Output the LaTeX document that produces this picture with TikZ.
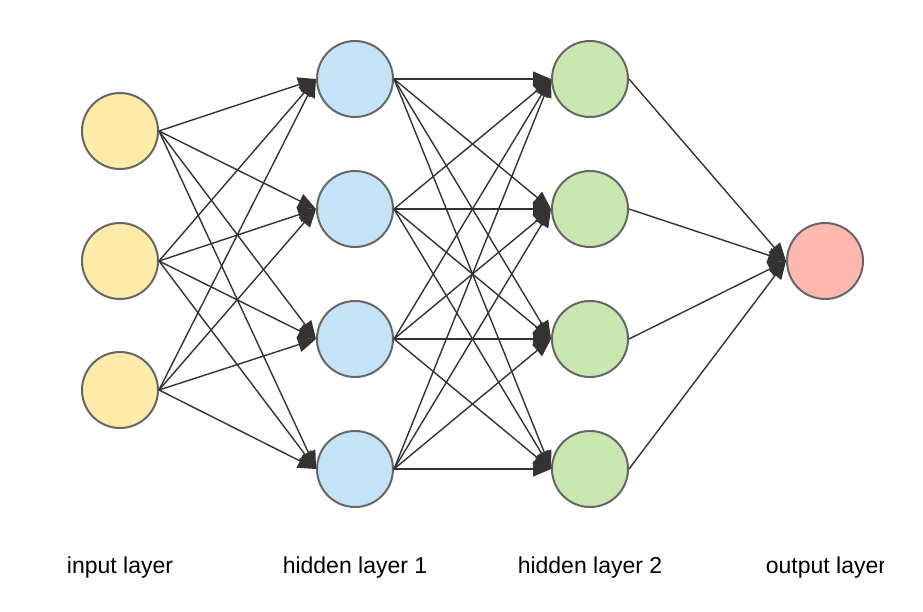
\documentclass[tikz,border=0pt]{standalone}
\usepackage{fontspec}
\setmainfont{Liberation Sans}
\usetikzlibrary{arrows.meta}
\definecolor{inyellow}{HTML}{FFEBA8}
\definecolor{hidblue}{HTML}{C4E3F6}
\definecolor{hidgreen}{HTML}{C8E8B0}
\definecolor{outred}{HTML}{FFB8B0}
\definecolor{ringgray}{HTML}{666666}
\definecolor{linkdark}{HTML}{333333}
\tikzset{
  neuron/.style={circle, draw=ringgray, line width=2pt, minimum size=76pt, inner sep=0pt},
  link/.style={draw=linkdark, line width=1.4pt, -{Triangle[length=18pt,width=15pt]}},
  layerlabel/.style={anchor=base, font=\fontsize{23}{26}\selectfont, text=black}
}
\begin{document}
\begin{tikzpicture}[x=1pt,y=-1pt]
\useasboundingbox (0,0) rectangle (923,612);
% input layer
\node[neuron, fill=inyellow] (i1) at (120,131) {};
\node[neuron, fill=inyellow] (i2) at (120,261) {};
\node[neuron, fill=inyellow] (i3) at (120,390) {};
% hidden layer 1
\node[neuron, fill=hidblue] (a1) at (355,79) {};
\node[neuron, fill=hidblue] (a2) at (355,209) {};
\node[neuron, fill=hidblue] (a3) at (355,339) {};
\node[neuron, fill=hidblue] (a4) at (355,469) {};
% hidden layer 2
\node[neuron, fill=hidgreen] (b1) at (590,79) {};
\node[neuron, fill=hidgreen] (b2) at (590,209) {};
\node[neuron, fill=hidgreen] (b3) at (590,339) {};
\node[neuron, fill=hidgreen] (b4) at (590,469) {};
% output
\node[neuron, fill=outred] (o1) at (825,261) {};
% connections
\foreach \s in {i1,i2,i3}{\foreach \t in {a1,a2,a3,a4}{\draw[link] (\s.east) -- (\t.west);}}
\foreach \s in {a1,a2,a3,a4}{\foreach \t in {b1,b2,b3,b4}{\draw[link] (\s.east) -- (\t.west);}}
\foreach \s in {b1,b2,b3,b4}{\draw[link] (\s.east) -- (o1.west);}
% labels
\node[layerlabel] (li) at (120,573) {input layer};
\node[layerlabel] (la) at (355,573) {hidden layer 1};
\node[layerlabel] (lb) at (590,573) {hidden layer 2};
\begin{scope}
\clip (0,0) rectangle (883,612);
\node[layerlabel] (lo) at (826,573) {output layer};
\end{scope}
\end{tikzpicture}
\end{document}
